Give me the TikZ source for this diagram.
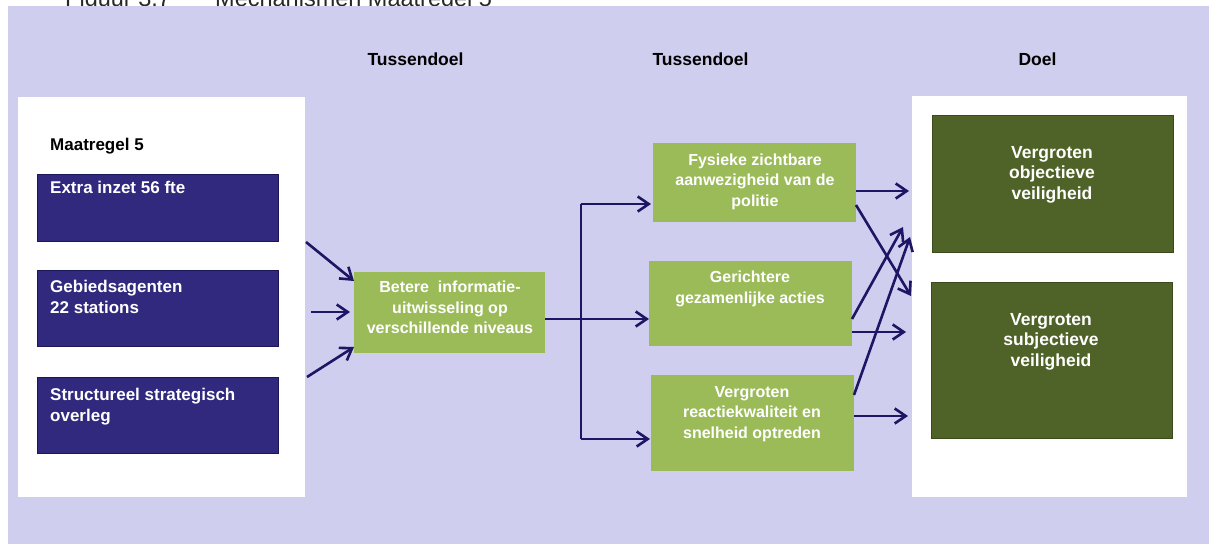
\documentclass[tikz,border=0pt]{standalone}
\usepackage{fontspec}
\setmainfont{Liberation Sans}
\usetikzlibrary{arrows.meta,calc}
\definecolor{lav}{RGB}{207,206,238}
\definecolor{navybox}{RGB}{48,41,125}
\definecolor{navyedge}{RGB}{28,24,88}
\definecolor{lgreen}{RGB}{155,187,89}
\definecolor{dgreen}{RGB}{79,98,40}
\definecolor{dgedge}{RGB}{58,74,28}
\definecolor{arrowc}{RGB}{28,22,100}
\definecolor{captc}{RGB}{40,40,40}
\tikzset{
 box/.style={rectangle, inner sep=0pt, outer sep=0pt},
 bluebox/.style={box, fill=navybox, draw=navyedge, line width=1pt},
 greenbox/.style={box, fill=lgreen},
 darkbox/.style={box, fill=dgreen, draw=dgedge, line width=1pt},
 wtxt/.style={text=white, font=\bfseries\fontsize{17}{20.5}\selectfont, inner sep=0pt, align=left, anchor=base west},
 gtxt/.style={text=white, font=\bfseries\fontsize{16}{20.5}\selectfont, inner sep=0pt, align=center, anchor=base},
 dtxt/.style={text=white, font=\bfseries\fontsize{17.5}{20.2}\selectfont, inner sep=0pt, align=center, anchor=base},
 head/.style={font=\bfseries\fontsize{17.5}{20}\selectfont, inner sep=0pt, anchor=base},
 capt/.style={font=\fontsize{23.5}{26}\selectfont, inner sep=0pt, anchor=base west, text=captc},
 arr/.style={draw=arrowc, line width=2.6pt, -{Straight Barb[length=11pt,width=15pt]}},
 conn/.style={draw=arrowc, line width=2.6pt},
}
\begin{document}
\begin{tikzpicture}[x=1pt,y=-1pt]
\useasboundingbox (0,0) rectangle (1209,544);
\begin{scope}
\clip (0,0) rectangle (1209,544);
\fill[white] (0,0) rectangle (1209,544);
\node[capt] (cap1) at (65,6.5) {Figuur 3.7};
\node[capt] (cap2) at (215,6.5) {Mechanismen Maatregel 5};
\fill[lav] (8,6) rectangle (1209,544);
\end{scope}
% panels
\fill[white] (18,97) rectangle (305,497);
\fill[white] (912,96) rectangle (1187,497);
% headers
\node[head] (h1) at (415.5,65) {Tussendoel};
\node[head] (h2) at (700.5,65) {Tussendoel};
\node[head] (h3) at (1037.5,65) {Doel};
% left
\node[wtxt, text=black] (m5) at (50,150) {Maatregel 5};
\node[bluebox, minimum width=241pt, minimum height=67pt] (b1) at (157.5,207.5) {};
\node[bluebox, minimum width=241pt, minimum height=76pt] (b2) at (157.5,308) {};
\node[bluebox, minimum width=241pt, minimum height=76pt] (b3) at (157.5,415) {};
\node[wtxt] (t1) at (50,193) {Extra inzet 56 fte};
\node[wtxt] (t2) at (50,313) {Gebiedsagenten\\22 stations};
\node[wtxt] (t3) at (50,421) {Structureel strategisch\\overleg};
% middle
\node[greenbox, minimum width=191pt, minimum height=81pt] (bet) at (449.5,312.5) {};
\node[gtxt] (tb) at (450,333.5) {Betere\ \ informatie-\\uitwisseling op\\verschillende niveaus};
\node[greenbox, minimum width=203pt, minimum height=79pt] (f1) at (754.5,182.5) {};
\node[greenbox, minimum width=203pt, minimum height=85pt] (f2) at (750.5,303.5) {};
\node[greenbox, minimum width=203pt, minimum height=96pt] (f3) at (752.5,423) {};
\node[gtxt] (tf1) at (755,206) {Fysieke zichtbare\\aanwezigheid van de\\politie};
\node[gtxt] (tf2) at (750,303) {Gerichtere\\gezamenlijke acties};
\node[gtxt] (tf3) at (752,438) {Vergroten\\reactiekwaliteit en\\snelheid optreden};
% right
\node[darkbox, minimum width=241pt, minimum height=137pt] (g1) at (1052.5,183.5) {};
\node[darkbox, minimum width=241pt, minimum height=156pt] (g2) at (1051.5,360) {};
\node[dtxt] (tg1) at (1052,199) {Vergroten\\objectieve\\veiligheid};
\node[dtxt] (tg2) at (1051,366) {Vergroten\\subjectieve\\veiligheid};
% connectors left
\coordinate (s1) at (306,242);
\coordinate (s2) at (311,312);
\coordinate (s3) at (307,377);
\draw[arr] (s1) -- (bet.west |- 0,281);
\draw[arr] (s2) -- ($(bet.west |- s2)+(-4,0)$);
\draw[arr] (s3) -- (bet.west |- 0,347);
% connectors middle
\coordinate (tt) at (581,204);
\coordinate (tb2) at (581,439);
\draw[conn] (tt) -- (tb2);
\draw[arr] (bet.east |- 0,319) -- (f2.west |- 0,319);
\draw[arr] (tt) -- ($(f1.west |- tt)+(-2,0)$);
\draw[arr] (tb2) -- ($(f3.west |- tb2)+(-1,0)$);
% connectors right
\coordinate (e1) at (909,191);
\coordinate (e2) at (911,296);
\coordinate (e3) at (903,227);
\coordinate (e4) at (906,332);
\coordinate (e5) at (910,237);
\coordinate (e6) at (908,416);
\draw[arr] (f1.east |- e1) -- (e1);
\draw[arr] (f1.east |- 0,205) -- (e2);
\draw[arr] (f2.east |- 0,319) -- (e3);
\draw[arr] (f2.east |- e4) -- (e4);
\draw[arr] (f3.east |- 0,395) -- (e5);
\draw[arr] (f3.east |- e6) -- (e6);
\end{tikzpicture}
\end{document}
